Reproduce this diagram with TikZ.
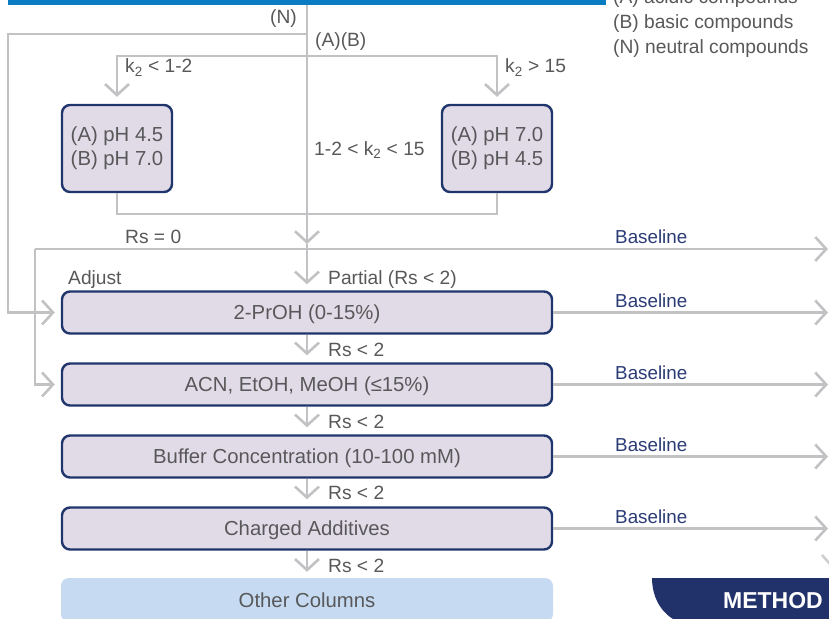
\documentclass[tikz,border=0pt]{standalone}
\usepackage{fontspec}
\setmainfont{Liberation Sans}
\usetikzlibrary{arrows.meta}
\definecolor{lgray}{HTML}{C2C2C4}
\definecolor{navy}{HTML}{1F356B}
\definecolor{boxfill}{HTML}{E1DBE7}
\definecolor{txt}{HTML}{58585A}
\definecolor{barblue}{HTML}{0A7CC1}
\definecolor{colblue}{HTML}{C6DBF1}
\definecolor{tabnavy}{HTML}{21316A}
\definecolor{blnavy}{HTML}{2A3B75}
\tikzset{
 conn/.style={draw=lgray, line width=2.6pt},
 arr/.style={conn, -{Straight Barb[length=11pt,width=24pt]}},
 box/.style={draw=navy, line width=2.4pt, fill=boxfill, rounded corners=8pt, text=txt, font=\fontsize{20.3}{24}\selectfont, inner sep=0pt, align=center},
 wide/.style={box, minimum width=490pt, minimum height=42pt, text height=14.5pt, text depth=0pt},
 lbl/.style={text=txt, font=\fontsize{19.2}{22}\selectfont, inner sep=0pt},
 bltext/.style={text=blnavy, font=\fontsize{18.8}{22}\selectfont, inner sep=0pt, anchor=base west},
}
\begin{document}
\begin{tikzpicture}[x=1pt,y=-1pt]
\useasboundingbox (0,0) rectangle (829,618);
\begin{scope}
\clip (0,0) rectangle (829,618);
% top bar
\fill[barblue] (8,-2) rectangle (606,5.5);
% legend
\node[lbl, anchor=base west] (legA) at (613,4) {(A) acidic compounds};
\node[lbl, anchor=base west] (legB) at (613,29) {(B) basic compounds};
\node[lbl, anchor=base west] (legN) at (613,54) {(N) neutral compounds};

% boxes
\node[box, minimum width=110pt, minimum height=87pt] (pa) at (117,148.5) {(A) pH 4.5\\(B) pH 7.0};
\node[box, minimum width=110pt, minimum height=87pt] (pb) at (497,148.5) {(A) pH 7.0\\(B) pH 4.5};
\node[wide] (b1) at (307,312.5) {2-PrOH (0-15\%)};
\node[wide] (b2) at (307,384.5) {ACN, EtOH, MeOH (≤15\%)};
\node[wide] (b3) at (307,456.5) {Buffer Concentration (10-100 mM)};
\node[wide] (b4) at (307,528.5) {Charged Additives};
\node[fill=colblue, rounded corners=8pt, minimum width=492pt, minimum height=44pt, inner sep=0pt, text=txt, font=\fontsize{20.3}{24}\selectfont, text height=14.5pt, text depth=0pt] (oc) at (307,600) {Other Columns};

% coordinates
\coordinate (top) at (307,5.5);
\coordinate (j1) at (307,34);
\coordinate (nL) at (8,34);
\coordinate (j2) at (307,56);
\coordinate (jb) at (307,214);
\coordinate (jc) at (307,244);
\coordinate (rs0) at (35,249);
\coordinate (rE0) at (828,249);

% connectors
\draw[conn] (top) -- (j1);
\draw[arr] (j1) -- (jc);
\draw[arr, shorten >=6pt] (jc) -- (b1.north);
\draw[arr, shorten >=6pt] (j1) -- (nL) |- (b1.west);
\draw[arr, shorten >=7pt] (j2) -| (pa.north);
\draw[arr, shorten >=7pt] (j2) -| (pb.north);
\draw[conn] (pa.south) |- (jb) -| (pb.south);
\draw[arr] (rs0) -- (rE0);
\draw[arr, shorten >=6pt] (rs0) |- (b2.west);
\draw[arr, shorten >=7pt] (b1.south) -- (b2.north);
\draw[arr, shorten >=7pt] (b2.south) -- (b3.north);
\draw[arr, shorten >=7pt] (b3.south) -- (b4.north);
\draw[arr, shorten >=6pt] (b4.south) -- (oc.north);
\draw[arr] (b1.east) -- (b1.east -| rE0);
\draw[arr] (b2.east) -- (b2.east -| rE0);
\draw[arr] (b3.east) -- (b3.east -| rE0);
\draw[arr] (b4.east) -- (b4.east -| rE0);
\coordinate (dg1) at (822,555);
\coordinate (dg2) at (830,564);
\draw[conn, draw=lgray!80] (dg1) -- (dg2);

% labels
\node[lbl, anchor=base east] (lN) at (297,24) {(N)};
\node[lbl, anchor=base west] (lAB) at (315,47) {(A)(B)};
\node[lbl, anchor=base west] (lk1) at (125,73) {k\textsubscript{2} < 1-2};
\node[lbl, anchor=base west] (lk2) at (505,73) {k\textsubscript{2} > 15};
\node[lbl, anchor=base west] (lmid) at (314,155) {1-2 < k\textsubscript{2} < 15};
\node[lbl, anchor=base west] (lrs0) at (125,243) {Rs = 0};
\node[lbl, anchor=base west] (ladj) at (68,284) {Adjust};
\node[lbl, anchor=base west] (lpart) at (328,284) {Partial (Rs < 2)};
\node[lbl, anchor=base west] (lr1) at (328,356) {Rs < 2};
\node[lbl, anchor=base west] (lr2) at (328,428) {Rs < 2};
\node[lbl, anchor=base west] (lr3) at (328,499.5) {Rs < 2};
\node[lbl, anchor=base west] (lr4) at (328,572) {Rs < 2};
\node[bltext] (bl0) at (615,243) {Baseline};
\node[bltext] (bl1) at (615,307) {Baseline};
\node[bltext] (bl2) at (615,379) {Baseline};
\node[bltext] (bl3) at (615,451) {Baseline};
\node[bltext] (bl4) at (615,523) {Baseline};

% METHOD tab
\fill[tabnavy] (652,578) -- (832,578) -- (832,625) -- (695,625) .. controls (670,625) and (652,605) .. (652,578) -- cycle;
\node[text=white, font=\fontsize{23}{26}\bfseries\selectfont, inner sep=0pt, anchor=base east] (meth) at (823,608.5) {METHOD};
\end{scope}
\end{tikzpicture}
\end{document}
